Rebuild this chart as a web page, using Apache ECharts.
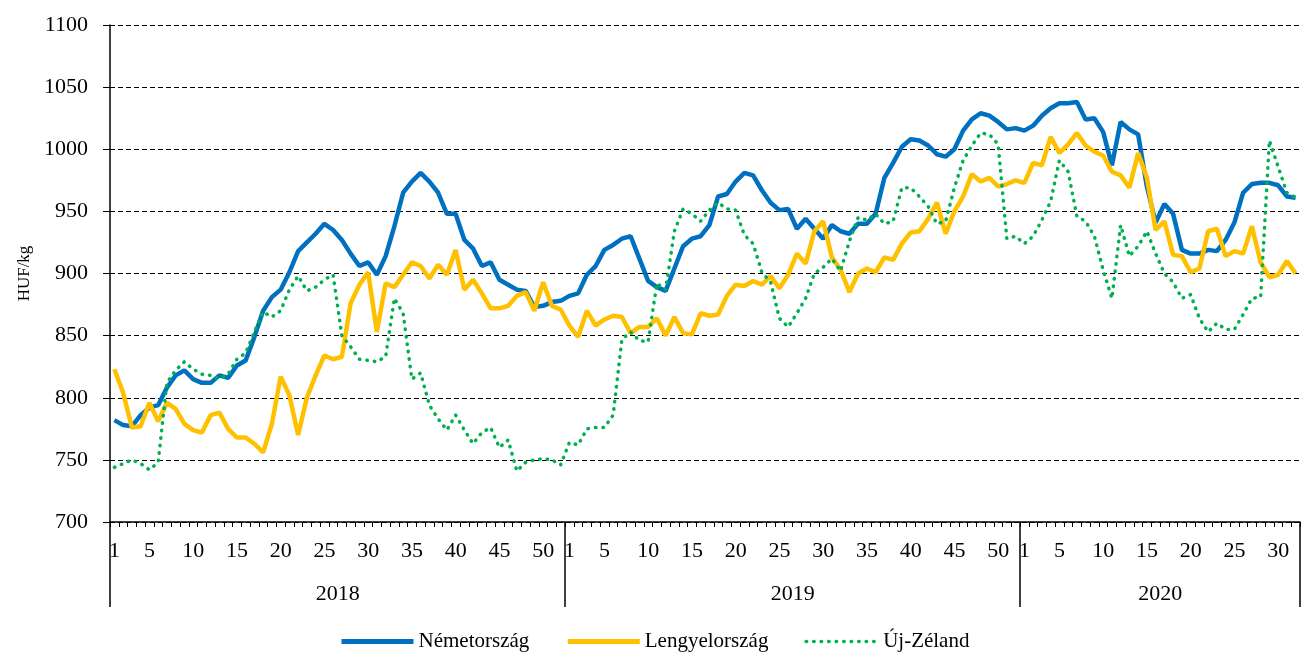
<!DOCTYPE html>
<html><head><meta charset="utf-8">
<script src="https://cdn.jsdelivr.net/npm/echarts@6/dist/echarts.min.js"></script>
<style>html,body{margin:0;padding:0;background:#fff}#c{width:1301px;height:653px}</style>
</head><body><div id="c"></div>
<script>
const years = ['2018', '2019', '2020'];
const weeksPerYear = [52, 52, 32];
const weekTickLabels = [1, 5, 10, 15, 20, 25, 30, 35, 40, 45, 50];
const seriesNames = ['Németország', 'Lengyelország', 'Új-Zéland'];

const germany = [
  782, 778, 777, 786, 792, 794, 808, 818, 822, 815, 812, 812, 818, 816, 826, 830, 849, 870, 881, 887,
  901, 918, 925, 932, 940, 935, 927, 916, 906, 909, 899, 914, 938, 965, 974, 981, 974, 965, 948, 948,
  927, 920, 906, 909, 895, 891, 887, 886, 873, 874, 877, 878,
  882, 884, 899, 906, 919, 923, 928, 930, 912, 894, 889, 886, 904, 922, 928, 930, 939, 962, 964, 974,
  981, 979, 967, 957, 951, 952, 936, 944, 936, 928, 939, 934, 932, 940, 940, 948, 977, 989, 1002, 1008,
  1007, 1003, 996, 994, 1000, 1015, 1024, 1029, 1027, 1022, 1016, 1017,
  1015, 1019, 1027, 1033, 1037, 1037, 1038, 1024, 1025, 1014, 987, 1022, 1016, 1012, 970, 941, 956, 948,
  919, 916, 916, 919, 918, 927, 941, 965, 972, 973, 973, 971, 962, 961
];
const poland = [
  823, 804, 776, 777, 796, 781, 796, 791, 779, 774, 772, 786, 788, 775, 768, 768, 763, 756, 779, 817,
  802, 770, 800, 818, 834, 831, 833, 876, 891, 901, 853, 892, 889, 899, 909, 906, 896, 907, 899, 919,
  887, 895, 884, 872, 872, 874, 882, 885, 870, 893, 874, 871,
  858, 849, 870, 858, 863, 866, 865, 852, 857, 857, 864, 850, 865, 852, 851, 868, 866, 867, 882, 891,
  890, 894, 891, 898, 888, 899, 916, 908, 934, 942, 913, 903, 885, 900, 904, 901, 913, 911, 924, 933,
  934, 944, 957, 932, 950, 962, 980, 974, 977, 970, 972, 975,
  973, 989, 987, 1010, 997, 1004, 1013, 1003, 998, 995, 982, 979, 969, 997, 977, 935, 942, 915, 914, 901,
  904, 934, 936, 914, 918, 916, 938, 909, 897, 899, 910, 900
];
const newZealand = [
  744, 747, 750, 747, 742, 748, 812, 822, 829, 823, 819, 818, 815, 819, 831, 836, 853, 869, 865, 870,
  887, 898, 886, 889, 895, 899, 850, 841, 831, 830, 829, 833, 880, 868, 815, 820, 794, 783, 774, 786,
  774, 763, 772, 776, 760, 766, 741, 748, 750, 751, 750, 746,
  764, 762, 775, 776, 776, 786, 847, 853, 846, 845, 892, 887, 934, 952, 948, 942, 951, 957, 952, 951,
  931, 924, 901, 893, 864, 857, 868, 880, 900, 905, 912, 902, 926, 945, 943, 948, 940, 942, 969, 969,
  962, 954, 940, 942, 969, 991, 1003, 1013, 1012, 1004, 928, 930,
  924, 930, 943, 958, 991, 982, 946, 942, 930, 903, 880, 939, 914, 922, 934, 916, 900, 893, 880, 883,
  864, 853, 860, 855, 855, 867, 880, 881, 1007, 986, 965, 961
];

// categories "year|week"
const categories = [];
const yearStarts = [];
const yearLabelIdx = {};
years.forEach((y, k) => {
  yearStarts.push(categories.length);
  yearLabelIdx[categories.length + weeksPerYear[k] / 2 - 1] = y;
  for (let w = 1; w <= weeksPerYear[k]; w++) categories.push(y + '|' + w);
});
const weekOf = v => Number(String(v).split('|')[1]);

const FONT = "'Liberation Serif', 'Times New Roman', serif";
const COLORS = ['#0070C0', '#FFC000', '#00B050'];
const chart = echarts.init(document.getElementById('c'), null, {renderer: 'canvas'});
chart.setOption({
  animation: false,
  backgroundColor: '#fff',
  grid: {left: 110, right: 1, top: 25, bottom: 131, containLabel: false},
  legend: {
    left: 334, top: 626, itemWidth: 72, itemHeight: 14, itemGap: 36,
    itemStyle: {opacity: 0},
    textStyle: {fontFamily: FONT, fontSize: 21, color: '#000'},
    data: [
      {name: seriesNames[0], lineStyle: {width: 5, color: COLORS[0]}},
      {name: seriesNames[1], lineStyle: {width: 5, color: COLORS[1]}},
      {name: seriesNames[2], lineStyle: {width: 3.5, color: COLORS[2], type: [0.5, 7], cap: 'round'}}
    ]
  },
  xAxis: [{
    type: 'category', data: categories, boundaryGap: true, position: 'bottom',
    axisLine: {lineStyle: {color: '#000', width: 1.5}},
    axisTick: {show: true, interval: 0, length: 5, lineStyle: {color: '#000', width: 1}},
    axisLabel: {
      interval: (i, v) => weekTickLabels.includes(weekOf(v)),
      formatter: v => String(weekOf(v)),
      fontFamily: FONT, fontSize: 22, color: '#000', margin: 18
    },
    splitLine: {show: false}
  }, {
    type: 'category', data: categories, boundaryGap: true, position: 'bottom', offset: 0,
    axisLine: {show: false},
    axisTick: {show: true, interval: (i) => yearStarts.includes(i), length: 85, lineStyle: {color: '#000', width: 1.5}},
    axisLabel: {
      interval: (i) => yearLabelIdx[i] !== undefined,
      formatter: (v, i) => yearLabelIdx[i] || '',
      fontFamily: FONT, fontSize: 22, color: '#000', margin: 61, padding: [0, 0, 0, 9]
    },
    splitLine: {show: false}
  }],
  yAxis: {
    type: 'value', min: 700, max: 1100, interval: 50,
    name: 'HUF/kg', nameLocation: 'middle', nameGap: 76, nameRotate: 90,
    nameTextStyle: {fontFamily: FONT, fontSize: 17, color: '#000'},
    axisLine: {show: true, lineStyle: {color: '#000', width: 1.5}},
    axisTick: {show: true, length: 7, lineStyle: {color: '#000'}},
    axisLabel: {fontFamily: FONT, fontSize: 22, color: '#000', margin: 22, formatter: v => String(v)},
    splitLine: {show: true, lineStyle: {color: '#000', type: [5, 3], width: 1}}
  },
  series: [{
    name: seriesNames[0], type: 'line', data: germany, symbol: 'none', color: COLORS[0],
    lineStyle: {color: COLORS[0], width: 4.5}
  }, {
    name: seriesNames[1], type: 'line', data: poland, symbol: 'none', color: COLORS[1],
    lineStyle: {color: COLORS[1], width: 4.5}
  }, {
    name: seriesNames[2], type: 'line', data: newZealand, symbol: 'none', color: COLORS[2],
    lineStyle: {color: COLORS[2], width: 3.5, type: [0.5, 7], cap: 'round'}
  }]
});
</script></body></html>
